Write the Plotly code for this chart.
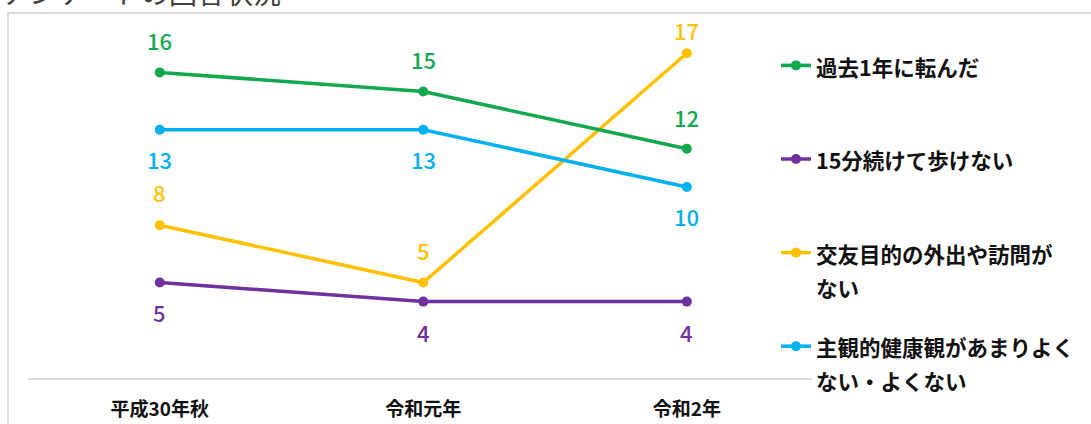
import plotly.graph_objects as go

# ---- data ----
categories = ["平成30年秋", "令和元年", "令和2年"]
fall_name = ["過去1年に転んだ"]
walk_name = ["15分続けて歩けない"]
social_name = ["交友目的の外出や訪問が", "ない"]
health_name = ["主観的健康観があまりよく", "ない・よくない"]
fall_values = [16, 15, 12]
walk_values = [5, 4, 4]
social_values = [8, 5, 17]
health_values = [13, 13, 10]
title_text = "アンケートの回答状況"

# ---- styles ----
GREEN = "#12A84E"
PURPLE = "#7030A0"
YELLOW = "#FFC000"
BLUE = "#00B0F0"
FONT = "Noto Sans CJK JP"

series = [
    # (name lines, values, color, legend rank, label shifts)
    (social_name, social_values, YELLOW, 3, [33, 33, 23]),
    (health_name, health_values, BLUE, 4, [-29, -29, -29]),
    (fall_name, fall_values, GREEN, 1, [32, 33, 32]),
    (walk_name, walk_values, PURPLE, 2, [-29, -30, -30]),
]


def legend_label(lines):
    parts = ['<span style="font-size:21.5px">%s</span>' % s for s in lines]
    if len(parts) == 1:
        parts.append("\u00a0")
    return "<br>".join(parts)


fig = go.Figure()
annotations = []
for lines, vals, color, rank, shifts in series:
    fig.add_trace(go.Scatter(
        x=categories, y=vals, mode="lines+markers",
        name=legend_label(lines), legendrank=rank, legendgroup="g%d" % rank,
        line=dict(color=color, width=3.5),
        marker=dict(color=color, size=10),
        hoverinfo="skip",
    ))
    for c, v, s in zip(categories, vals, shifts):
        annotations.append(dict(
            x=c, y=v, xref="x", yref="y", text=str(v), showarrow=False,
            yshift=s, font=dict(family=FONT, size=22, color=color, weight=500),
        ))

L, T, PW, PH = 28, 20, 784, 358
annotations.append(dict(
    xref="paper", yref="paper", x=(0 - L) / PW, y=1 + (T + 8) / PH,
    xanchor="left", yanchor="middle", text=title_text, showarrow=False,
    font=dict(family=FONT, size=28, color="#404040"),
))

fig.update_layout(
    width=1091, height=424,
    margin=dict(l=L, r=1091 - L - PW, t=T, b=424 - T - PH, pad=0,
                autoexpand=False),
    paper_bgcolor="white", plot_bgcolor="white",
    font=dict(family=FONT, color="#111111"),
    showlegend=True,
    legend=dict(
        xref="container", yref="container", x=776 / 1091, y=1 - 42 / 424,
        xanchor="left", yanchor="top", valign="top", maxheight=420,
        font=dict(family=FONT, size=26, color="#111111", weight="bold"),
        traceorder="grouped", tracegroupgap=23, bgcolor="rgba(0,0,0,0)",
        itemclick=False, itemdoubleclick=False,
    ),
    annotations=annotations,
    shapes=[dict(
        type="rect", xref="paper", yref="paper",
        x0=(8 - L) / PW, x1=1.6, y0=-0.5, y1=1 + (T - 13) / PH,
        line=dict(color="#D0D0D0", width=1.5), fillcolor="rgba(0,0,0,0)",
        layer="below",
    )],
)
fig.update_xaxes(
    type="category", range=[-0.5, 2.475], showgrid=False, zeroline=False,
    showline=True, linecolor="#D9D9D9", linewidth=2, ticks="",
    ticklabelstandoff=13,
    tickfont=dict(family=FONT, size=19, color="#111111", weight="bold"),
)
fig.update_yaxes(
    range=[0, PH / 19.1], showgrid=False, zeroline=False, showline=False,
    showticklabels=False, ticks="",
)

fig.write_html("out.html")
